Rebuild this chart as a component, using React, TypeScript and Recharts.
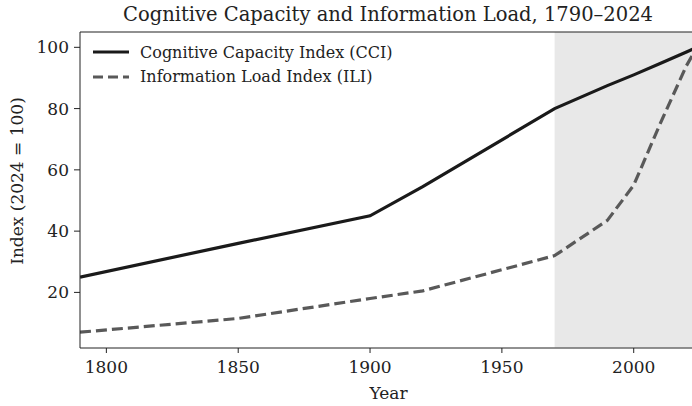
import React from 'react';
import { LineChart, Line, XAxis, YAxis, ReferenceArea, ReferenceLine, Label } from 'recharts';

const years = [1790, 1850, 1900, 1920, 1970, 1990, 2000, 2010, 2020, 2024];
const cci = [25, 36, 45, 54.5, 80, 87.5, 91, 94.7, 98.5, 100];
const ili = [7, 11.5, 18, 20.5, 32, 43.5, 55, 75, 94, 100];
const xTicks = [1800, 1850, 1900, 1950, 2000];
const yTicks = [20, 40, 60, 80, 100];

const seriesNames = {
  cci: 'Cognitive Capacity Index (CCI)',
  ili: 'Information Load Index (ILI)',
};

const FONT = '"DejaVu Serif", serif';
const DASH = '11 5';

const data = years.map((year, i) => ({ year, cci: cci[i], ili: ili[i] }));

const LegendBox = () => (
  <div style={{ position: 'absolute', left: 93, top: 40, fontFamily: FONT, fontSize: 16, color: '#222' }}>
    {[
      { name: seriesNames.cci, color: '#1a1a1a', dash: undefined },
      { name: seriesNames.ili, color: '#595959', dash: '10 5' },
    ].map((item) => (
      <div key={item.name} style={{ display: 'flex', alignItems: 'center', height: 24.6 }}>
        <svg width={36} height={6} style={{ marginRight: 11 }}>
          <line x1={0} y1={3} x2={36} y2={3} stroke={item.color} strokeWidth={3.2} strokeDasharray={item.dash} />
        </svg>
        <span>{item.name}</span>
      </div>
    ))}
  </div>
);

export default function App() {
  return (
    <div style={{ position: 'fixed', left: 0, top: 0, width: 692, height: 406, overflow: 'hidden', background: '#fff' }}>
      <div
        style={{
          position: 'absolute',
          top: 3,
          left: 0,
          width: 776,
          textAlign: 'center',
          fontFamily: FONT,
          fontSize: 19.5,
          color: '#222',
        }}
      >
        Cognitive Capacity and Information Load, 1790–2024
      </div>
      <LineChart width={700} height={406} data={data} margin={{ top: 32, right: 3, bottom: 0, left: 0 }}>
        <ReferenceArea x1={1970} x2={2024} y1={2} y2={105} fill="#e8e8e8" fillOpacity={1} stroke="none" />
        <ReferenceLine y={105} stroke="#222" strokeWidth={1.2} />
        <XAxis
          dataKey="year"
          type="number"
          domain={[1790, 2024]}
          ticks={xTicks}
          allowDataOverflow
          height={58}
          tickSize={5}
          tickMargin={8}
          stroke="#222"
          tick={{ fill: '#222', fontSize: 17, fontFamily: FONT }}
        >
          <Label
            content={({ viewBox }: any) => (
              <text x={viewBox.x + viewBox.width / 2} y={399} textAnchor="middle" fill="#222" fontSize={17} fontFamily={FONT}>
                Year
              </text>
            )}
          />
        </XAxis>
        <YAxis
          type="number"
          domain={[1.85, 105]}
          ticks={yTicks}
          allowDataOverflow
          width={80}
          tickSize={6}
          tickMargin={5}
          stroke="#222"
          tick={{ fill: '#222', fontSize: 17, fontFamily: FONT }}
        >
          <Label
            content={() => (
              <text
                x={0}
                y={0}
                transform="translate(23, 181) rotate(-90)"
                textAnchor="middle"
                fill="#222"
                fontSize={17}
                fontFamily={FONT}
              >
                Index (2024 = 100)
              </text>
            )}
          />
        </YAxis>
        <Line
          type="linear"
          dataKey="cci"
          name={seriesNames.cci}
          stroke="#1a1a1a"
          strokeWidth={3.2}
          dot={false}
          isAnimationActive={false}
        />
        <Line
          type="linear"
          dataKey="ili"
          name={seriesNames.ili}
          stroke="#595959"
          strokeWidth={3.2}
          strokeDasharray={DASH}
          dot={false}
          isAnimationActive={false}
        />
      </LineChart>
      <LegendBox />
    </div>
  );
}
